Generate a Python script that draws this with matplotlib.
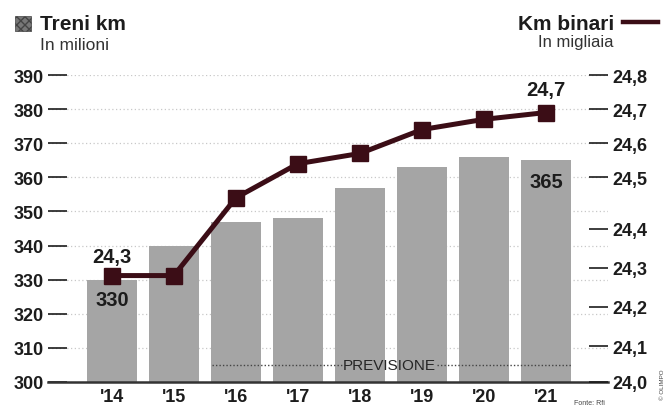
import numpy as np
import matplotlib
matplotlib.use("Agg")
import matplotlib.pyplot as plt
from matplotlib.patches import Rectangle
from matplotlib.lines import Line2D

# -----------------------------
# DATA
# -----------------------------
years = ["'14", "'15", "'16", "'17", "'18", "'19", "'20", "'21"]
treni_km = [330, 340, 347, 348, 357, 363, 366, 365]          # milioni
km_binari = [24.28, 24.28, 24.46, 24.54, 24.57, 24.64, 24.67, 24.69]  # migliaia

left_ticks = [300, 310, 320, 330, 340, 350, 360, 370, 380, 390]
right_ticks = [24.0, 24.1, 24.2, 24.3, 24.4, 24.5, 24.6, 24.7, 24.8]
# the printed right axis is not evenly spaced: where each tick sits on the left scale
right_pos = [300, 310.5, 322, 333.5, 345, 360, 370, 380, 390]

plt.rcParams["font.family"] = ["Liberation Sans", "DejaVu Sans"]
DARK = "#1c1c1c"
LINE = "#3b0d16"
BAR = "#a5a5a5"

fig = plt.figure(figsize=(6.68, 4.10), dpi=100)
ax = fig.add_axes([48 / 668, 1 - 383 / 410, (608 - 48) / 668, (383 - 76) / 410])

x = np.arange(len(years))
ax.bar(x, treni_km, width=0.8, color=BAR, zorder=2)
ax.set_xlim(-1.03, 8.0)
ax.set_ylim(300, 390)
ax.set_yticks(left_ticks)
ax.set_yticklabels([str(t) for t in left_ticks], fontsize=13, fontweight="bold", color=DARK)
ax.set_xticks(x)
ax.set_xticklabels(years, fontsize=13, fontweight="bold", color=DARK)
ax.tick_params(axis="x", length=0, pad=4)
ax.tick_params(axis="y", direction="in", length=14, width=1.2, color=DARK, pad=3)
ax.grid(axis="y", color="#c8c8c8", linestyle=(0, (1, 2)), linewidth=0.9)
ax.set_axisbelow(True)
for s in ["left", "right", "top"]:
    ax.spines[s].set_visible(False)
ax.spines["bottom"].set_linewidth(1.8)
ax.spines["bottom"].set_color("#333333")

# right axis, mapped piecewise onto the left one
fwd = lambda v: np.interp(v, right_ticks, right_pos)
inv = lambda v: np.interp(v, right_pos, right_ticks)
ax2 = ax.twinx()
ax2.set_yscale("function", functions=(fwd, inv))
ax2.set_ylim(24.0, 24.8)
ax2.set_yticks(right_ticks)
ax2.set_yticklabels([f"{t:.1f}".replace(".", ",") for t in right_ticks],
                    fontsize=13, fontweight="bold", color=DARK)
ax2.yaxis.set_minor_locator(matplotlib.ticker.NullLocator())
ax2.tick_params(axis="y", direction="in", length=14, width=1.2, color=DARK, pad=3)
for s in ["left", "right", "top", "bottom"]:
    ax2.spines[s].set_visible(False)

ax2.plot(x, km_binari, color=LINE, linewidth=3.6, marker="s", markersize=12,
         markerfacecolor=LINE, markeredgecolor=LINE, zorder=5, clip_on=False)

# value labels
ax2.annotate(f"{km_binari[0]:.1f}".replace(".", ","), (x[0], km_binari[0]),
             xytext=(0, 14), textcoords="offset points", ha="center", va="center",
             fontsize=14.5, fontweight="bold", color=DARK)
ax2.annotate(f"{km_binari[-1]:.1f}".replace(".", ","), (x[-1], km_binari[-1]),
             xytext=(0, 16.5), textcoords="offset points", ha="center", va="center",
             fontsize=14.5, fontweight="bold", color=DARK)
ax.annotate(str(treni_km[0]), (x[0], treni_km[0]), xytext=(0, -14.5),
            textcoords="offset points", ha="center", va="center",
            fontsize=14.5, fontweight="bold", color=DARK)
ax.annotate(str(treni_km[-1]), (x[-1], treni_km[-1]), xytext=(0, -15),
            textcoords="offset points", ha="center", va="center",
            fontsize=14.5, fontweight="bold", color=DARK)

# forecast marker
ax.plot([1.61, 3.72], [305, 305], color="#444444", linestyle=(0, (1, 1.5)), linewidth=1, zorder=3)
ax.plot([5.25, 7.4], [305, 305], color="#444444", linestyle=(0, (1, 1.5)), linewidth=1, zorder=3)
ax.text(4.48, 305, "PREVISIONE", ha="center", va="center", fontsize=11,
        color="#262626", zorder=4)

# headers
fig.patches.append(Rectangle((15 / 668, 1 - 32 / 410), 16 / 668, 15 / 410,
                             transform=fig.transFigure, facecolor="#777777",
                             edgecolor="#444444", hatch="xxxx", linewidth=0.5))
fig.text(40 / 668, 1 - 24 / 410, "Treni km", fontsize=15, fontweight="bold",
         color=DARK, va="center", ha="left")
fig.text(40 / 668, 1 - 45 / 410, "In milioni", fontsize=12.5, color="#333333",
         va="center", ha="left")
fig.text(614 / 668, 1 - 24 / 410, "Km binari", fontsize=15, fontweight="bold",
         color=DARK, va="center", ha="right")
fig.lines.append(Line2D([623 / 668, 658 / 668], [1 - 23 / 410, 1 - 23 / 410],
                        transform=fig.transFigure, color=LINE, linewidth=3.2))
fig.text(613 / 668, 1 - 43 / 410, "In migliaia", fontsize=12, color="#333333",
         va="center", ha="right")

fig.text(589 / 668, 1 - 404 / 410, "Fonte: Rfi", fontsize=5, color="#444444",
         ha="center", va="center")
fig.text(663 / 668, 1 - 385 / 410, "© OLIMPO", fontsize=4.5, color="#444444",
         rotation=90, ha="center", va="center")

fig.savefig("out.png", dpi=100)
